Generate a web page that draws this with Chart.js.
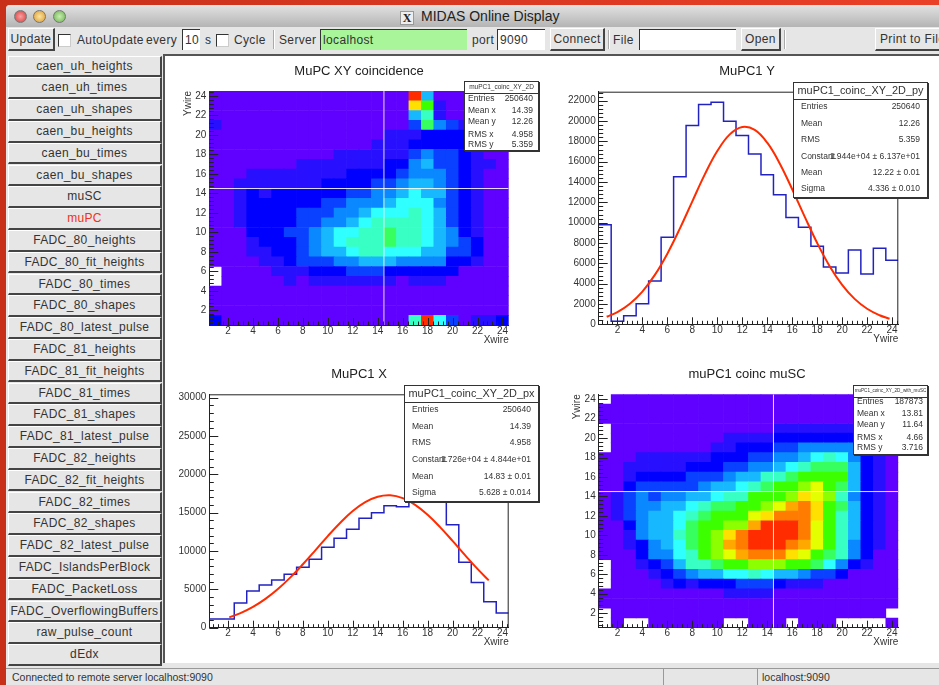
<!DOCTYPE HTML>
<html>
<head>
<meta charset="utf-8">
<script src="https://cdn.jsdelivr.net/npm/chart.js"></script>
<style>
    html, body { margin: 0; padding: 0; width: 939px; height: 685px; overflow: hidden; background: #d23219; font-family: "Liberation Sans", sans-serif; color: #333; }
    body { background: linear-gradient(to right, #c8301a, #ea4028); filter: blur(0.45px); }
    .abs { position: absolute; white-space: nowrap; }
    #win { position: absolute; left: 6px; top: 5px; width: 933px; height: 680px; background: #e6e6e6; border-radius: 4px 0 0 0; }
    #titlebar { position: absolute; left: 6px; top: 5px; width: 933px; height: 22px; background: linear-gradient(#e2e2e2, #b4b4b4); border-radius: 4px 0 0 0; }
    .light { position: absolute; top: 10px; width: 11px; height: 11px; border-radius: 50%; border: 1px solid #777; }
    .tb { font-size: 12px; line-height: 14px; top: 33px; letter-spacing: .35px; }
    .btn { position: absolute; background: #e6e6e6; border-top: 1px solid #fff; border-left: 1px solid #fff; border-right: 2px solid #444; border-bottom: 2px solid #444; box-sizing: border-box; text-align: center; font-size: 12px; letter-spacing: .35px; color: #333; white-space: nowrap; }
    .input { position: absolute; top: 29px; height: 21px; box-sizing: border-box; background: #fff; border-top: 1px solid #333; border-left: 1px solid #333; font-size: 12px; line-height: 20px; padding-left: 2px; letter-spacing: .35px; }
    .check { position: absolute; top: 34px; width: 11px; height: 11px; background: #fff; border-top: 1px solid #333; border-left: 1px solid #333; border-right: 1px solid #ccc; border-bottom: 1px solid #ccc; }
    .sep { position: absolute; top: 30px; width: 1px; height: 19px; background: #aaa; border-right: 1px solid #fff; }
    #main { position: absolute; left: 163px; top: 54px; width: 776px; height: 609px; background: #fff; border-left: 2px solid #555; border-top: 2px solid #555; box-sizing: border-box; }
    canvas { position: absolute; }
    .stat { position: absolute; box-sizing: border-box; background: #fff; border: 1px solid #333; box-shadow: 1px 1px 0 #333; font-size: 8.5px; color: #333; }
    .stat .head { position: absolute; left: 0; right: 0; top: 0; text-align: center; border-bottom: 1px solid #333; color: #333; white-space: nowrap; overflow: hidden; }
    .stat span { position: absolute; white-space: nowrap; line-height: 10px; }
    .status { position: absolute; top: 670px; font-size: 10.5px; line-height: 14px; height: 15px; color: #333; }
</style>
</head>
<body>

<div id="win"></div>
<div id="titlebar"></div>
<div class="light" style="left:14px; background:radial-gradient(#f9a0a0,#d83a3a)"></div>
<div class="light" style="left:33px; background:radial-gradient(#fbe3a0,#dc9a30)"></div>
<div class="light" style="left:53px; background:radial-gradient(#c8eeb0,#6cb050)"></div>
<div class="abs" style="left:400px; top:11px; width:12px; height:12px; background:#eee; border:1px solid #999; font:bold 12px/12px 'Liberation Serif'; text-align:center; color:#222">X</div>
<div class="abs" style="left:421px; top:8px; font-size:14px; line-height:17px; color:#222">MIDAS Online Display</div>

<div class="btn" style="left:8px; top:28px; width:47px; height:23px; line-height:20px">Update</div>
<div class="check" style="left:58px"></div>
<div class="abs tb" style="left:77px">AutoUpdate</div>
<div class="abs tb" style="left:146px">every</div>
<div class="input" style="left:182px; width:18px">10</div>
<div class="abs tb" style="left:205px">s</div>
<div class="check" style="left:216px"></div>
<div class="abs tb" style="left:234px">Cycle</div>
<div class="sep" style="left:273px"></div>
<div class="abs tb" style="left:279px">Server</div>
<div class="input" style="left:320px; width:147px; background:#a8f59a">localhost</div>
<div class="abs tb" style="left:472px">port</div>
<div class="input" style="left:497px; width:48px">9090</div>
<div class="btn" style="left:550px; top:28px; width:55px; height:23px; line-height:20px">Connect</div>
<div class="sep" style="left:608px"></div>
<div class="abs tb" style="left:613px">File</div>
<div class="input" style="left:639px; width:97px"></div>
<div class="btn" style="left:741px; top:28px; width:40px; height:23px; line-height:20px">Open</div>
<div class="sep" style="left:784px"></div>
<div class="btn" style="left:875px; top:28px; width:80px; height:23px; line-height:20px; text-align:left; padding-left:4px">Print to File</div>

<div id="side"></div>
<div id="main"></div>

<canvas id="xyChart" width="388" height="300" style="left:165px; top:56px"></canvas>
<canvas id="pyChart" width="384" height="300" style="left:555px; top:56px"></canvas>
<canvas id="pxChart" width="388" height="300" style="left:165px; top:358px"></canvas>
<canvas id="scChart" width="384" height="300" style="left:555px; top:358px"></canvas>
<div id="stats"></div>

<div class="abs" style="left:6px; top:668px; width:933px; height:1px; background:#999"></div>
<div class="status" style="left:12px">Connected to remote server localhost:9090</div>
<div class="abs" style="left:663px; top:668px; width:1px; height:17px; background:#999"></div>
<div class="abs" style="left:757px; top:668px; width:1px; height:17px; background:#999"></div>
<div class="status" style="left:762px">localhost:9090</div>

<script type="text/javascript">
    const sideButtons = ['caen_uh_heights','caen_uh_times','caen_uh_shapes','caen_bu_heights','caen_bu_times','caen_bu_shapes','muSC','muPC',
        'FADC_80_heights','FADC_80_fit_heights','FADC_80_times','FADC_80_shapes','FADC_80_latest_pulse',
        'FADC_81_heights','FADC_81_fit_heights','FADC_81_times','FADC_81_shapes','FADC_81_latest_pulse',
        'FADC_82_heights','FADC_82_fit_heights','FADC_82_times','FADC_82_shapes','FADC_82_latest_pulse',
        'FADC_IslandsPerBlock','FADC_PacketLoss','FADC_OverflowingBuffers','raw_pulse_count','dEdx'];

    // colour level of each bin, -1 = empty. first row is Ywire 24, last is Ywire 1
    const palette = ['#6000ff','#2810ff','#0000ff','#0a40ff','#0a88ff','#18b8ff','#30ffff','#38ffc4','#38ff60','#3cff00','#8cff00','#e4ff00','#ffe000','#ffa800','#ff7c00','#ff2c00'];

    const xyRows = [
        [0,0,0,0,0,0,0,0,0,0,0,0,0,0,0,0,15,5,0,0,0,0,0,0],
        [0,0,0,0,0,0,0,0,0,0,0,0,0,0,0,0,12,9,1,0,0,0,0,0],
        [0,0,0,0,0,0,0,0,0,0,0,0,0,0,0,0,5,7,1,0,0,0,0,0],
        [1,0,0,0,0,0,0,0,0,0,0,0,0,0,0,0,3,8,4,3,1,0,0,0],
        [0,0,0,0,0,0,0,0,0,0,0,0,0,0,1,1,1,2,2,2,2,1,0,0],
        [0,0,0,0,0,0,0,0,0,0,0,0,0,1,1,1,2,2,2,2,2,1,0,0],
        [0,0,0,0,0,0,0,0,0,0,1,1,1,1,1,1,3,4,3,3,2,1,0,0],
        [0,0,0,0,0,0,0,1,1,1,1,1,1,1,2,2,4,5,3,3,2,1,1,0],
        [0,0,0,1,1,1,1,1,1,1,1,2,2,2,2,3,4,4,4,3,2,1,0,0],
        [0,0,1,1,1,1,1,1,1,2,2,2,2,3,3,4,5,5,4,3,2,1,0,0],
        [0,0,1,2,1,2,2,2,2,2,2,3,3,4,4,5,6,5,5,3,2,1,0,0],
        [0,0,1,2,2,2,2,2,2,3,3,4,4,4,5,6,6,6,4,3,2,1,0,0],
        [0,0,1,2,2,2,2,3,3,3,4,4,5,6,6,6,7,6,5,3,2,1,0,0],
        [0,0,1,2,2,2,2,3,3,4,4,5,6,7,7,7,7,6,5,3,2,1,0,0],
        [0,0,0,2,2,2,3,3,4,5,6,6,7,7,8,7,7,6,5,4,2,1,0,0],
        [0,0,0,1,2,2,2,3,4,5,6,7,7,7,8,7,7,6,5,4,3,2,0,0],
        [0,0,0,1,1,2,2,3,4,5,5,6,7,7,6,6,6,5,5,3,3,2,0,0],
        [0,0,0,0,1,1,2,3,3,3,4,4,5,5,5,4,4,4,4,2,2,1,0,0],
        [-1,0,0,0,0,1,1,1,2,2,2,3,3,3,2,2,2,2,2,2,0,0,0,0],
        [-1,0,0,0,0,0,1,0,1,1,1,1,1,1,1,0,1,1,1,0,0,0,0,0],
        [0,0,0,0,0,0,0,0,0,0,0,0,0,0,0,0,0,0,0,0,0,0,0,0],
        [0,0,0,0,0,0,0,0,0,0,0,0,0,0,0,0,0,0,0,0,0,0,0,0],
        [0,0,0,0,0,0,0,0,0,0,0,0,0,0,0,0,0,0,0,0,0,0,0,0],
        [2,0,0,0,0,0,0,0,0,0,0,0,0,0,0,0,7,15,6,3,0,1,1,2]
    ];

    const scRows = [
        [-1,0,0,0,0,0,0,0,0,0,0,0,0,0,0,0,0,0,0,0,0,0,0,0],
        [0,0,0,0,0,0,0,0,0,0,0,0,0,0,0,0,0,0,0,0,0,0,0,0],
        [0,0,0,0,0,0,0,0,0,0,0,0,0,0,0,0,0,0,0,0,0,0,0,0],
        [-1,0,0,0,0,0,0,0,0,0,0,0,0,0,1,1,1,1,1,1,1,1,0,0],
        [-1,0,0,0,0,0,0,0,0,0,1,1,1,1,2,2,2,2,2,2,2,1,0,0],
        [-1,0,0,0,0,0,0,0,0,1,1,2,2,2,3,3,4,4,4,4,4,2,1,0],
        [0,0,0,1,1,1,1,1,1,2,2,2,3,3,4,4,5,6,7,6,4,2,1,0],
        [0,0,1,1,1,1,1,2,2,2,3,3,4,4,5,6,7,8,8,8,5,2,1,0],
        [0,0,1,2,2,2,2,3,3,3,4,5,5,7,7,8,9,9,9,9,5,2,1,0],
        [0,0,2,3,3,3,3,3,4,5,5,6,7,8,9,9,10,11,9,8,5,2,1,0],
        [0,1,3,4,3,4,4,5,5,6,7,7,9,9,9,10,12,11,10,7,4,2,1,0],
        [0,1,3,4,4,5,5,6,7,8,8,9,9,10,11,13,14,12,9,8,5,2,1,0],
        [0,1,3,4,5,5,6,7,8,9,9,9,11,12,14,14,14,12,9,7,5,2,1,0],
        [0,0,2,4,5,5,6,8,9,9,10,10,13,15,15,15,14,11,9,7,5,2,1,0],
        [0,0,1,4,5,5,7,8,9,10,12,14,15,15,15,15,14,11,9,7,5,2,1,0],
        [0,0,1,2,4,5,6,8,9,10,13,14,15,15,15,14,13,11,9,7,4,2,1,0],
        [0,0,0,2,4,4,6,7,9,10,11,13,14,14,14,12,11,9,8,7,4,2,0,0],
        [-1,0,0,1,2,3,5,7,7,8,9,9,10,10,10,9,9,8,6,4,2,1,0,0],
        [-1,0,0,0,1,2,3,4,5,5,6,6,7,6,5,5,4,3,3,2,0,0,0,0],
        [-1,0,0,0,0,1,2,1,2,2,2,3,3,3,2,1,1,1,0,0,0,0,0,0],
        [0,0,0,0,0,0,0,0,0,0,1,1,1,1,0,0,0,0,0,0,0,0,0,0],
        [0,0,0,0,0,0,0,0,0,0,0,0,0,0,0,0,0,0,0,0,0,0,0,0],
        [-1,0,0,0,0,0,0,0,0,0,0,0,0,0,0,0,0,0,0,0,0,0,0,-1],
        [-1,0,-1,-1,0,0,0,0,0,0,-1,-1,0,0,0,-1,0,0,0,-1,-1,-1,-1,0]
    ];

    const pyCounts = [9800,300,850,2030,4260,8560,14520,19570,21640,21840,19970,18590,16750,14720,12750,10520,9540,7670,5640,5050,7310,4950,7480,6300];
    const pxCounts = [1130,1130,3220,4780,5570,6220,6960,7870,8910,10480,11650,12830,14260,15000,15910,15780,22800,29000,24000,13430,8520,5910,3390,1910];

    const pyFitX = [1.14,2,3,4,5,6,7,8,9,10,11,12,13,14,15,16,17,18,19,20,21,22,23,23.8];
    const pyFitY = [740,1210,2030,3220,4860,6950,9420,12100,14750,17050,18690,19420,19130,17870,15830,13290,10600,8000,5720,3880,2500,1530,890,550];
    const pxFitX = [2.1,3,4,5,6,7,8,9,10,11,12,13,14,15,16,17,18,19,20,21,22,22.9];
    const pxFitY = [1340,1900,2710,3760,5040,6560,8270,10090,11950,13690,15210,16370,17070,17260,16890,16020,14730,13120,11320,9460,7670,6170];

    const wireTicks = [2,4,6,8,10,12,14,16,18,20,22,24];
    const pyTicks = [0,2000,4000,6000,8000,10000,12000,14000,16000,18000,20000,22000];
    const pxTicks = [0,5000,10000,15000,20000,25000,30000];

    const statBoxes = [
        { box: [464, 81, 75, 70], head: 'muPC1_coinc_XY_2D', headSize: 6.5, headH: 10.5, x: [3, 70],
          rows: [['Entries','250640',98],['Mean x','14.39',110],['Mean y','12.26',121],['RMS x','4.958',134],['RMS y','5.359',144]] },
        { box: [793, 82, 135, 116], head: 'muPC1_coinc_XY_2D_py', headSize: 10.9, headH: 15.5, x: [7, 128],
          rows: [['Entries','250640',106],['Mean','12.26',123],['RMS','5.359',139],['Constant','1.944e+04 ± 6.137e+01',156],['Mean','12.22 ± 0.01',172],['Sigma','4.336 ± 0.010',188]] },
        { box: [404, 385, 135, 117], head: 'muPC1_coinc_XY_2D_px', headSize: 10.9, headH: 15.5, x: [7, 128],
          rows: [['Entries','250640',409],['Mean','14.39',426],['RMS','4.958',442],['Constant','1.726e+04 ± 4.844e+01',459],['Mean','14.83 ± 0.01',476],['Sigma','5.628 ± 0.014',492]] },
        { box: [853, 385, 75, 70], head: 'muPC1_coinc_XY_2D_with_muSC', headSize: 4.6, headH: 10.5, x: [3, 71],
          rows: [['Entries','187873',401],['Mean x','13.81',413],['Mean y','11.64',424],['RMS x','4.66',437],['RMS y','3.716',447]] }
    ];

    // window chrome
    const side = document.getElementById('side');
    sideButtons.forEach((name, i) => {
        const b = document.createElement('div');
        b.className = 'btn';
        b.textContent = name;
        b.style.cssText = `left:8px; top:${55.5 + i * 21.8}px; width:154px; height:21.8px; line-height:19px;` + (name == 'muPC' ? 'color:#f03020;' : '');
        side.appendChild(b);
    });

    const stats = document.getElementById('stats');
    statBoxes.forEach(s => {
        const d = document.createElement('div');
        d.className = 'stat';
        d.style.cssText = `left:${s.box[0]}px; top:${s.box[1]}px; width:${s.box[2]}px; height:${s.box[3]}px;`;
        d.innerHTML = `<div class="head" style="font-size:${s.headSize}px; height:${s.headH}px; line-height:${s.headH}px">${s.head}</div>`;
        s.rows.forEach(r => {
            const top = r[2] - s.box[1] - 6;
            d.innerHTML += `<span style="left:${s.x[0]}px; top:${top}px">${r[0]}</span>`;
            d.innerHTML += `<span style="right:${s.box[2] - s.x[1]}px; top:${top}px">${r[1]}</span>`;
        });
        stats.appendChild(d);
    });

    Chart.defaults.font.family = '"Liberation Sans", sans-serif';
    Chart.defaults.color = '#333';
    Chart.defaults.animation = false;

    // ROOT style inward ticks, and the title centred over the whole pad
    const rootTicks = {
        id: 'rootTicks',
        afterLayout(chart) {
            chart.titleBlock.left = 0;
            chart.titleBlock.right = chart.width;
            chart.titleBlock.width = chart.width;
        },
        afterDatasetsDraw(chart, args, opts) {
            const ctx = chart.ctx, a = chart.chartArea, x = chart.scales.x, y = chart.scales.y;
            ctx.save();
            ctx.strokeStyle = '#222';
            ctx.lineWidth = 1;
            ctx.beginPath();
            for (let v = 0.8; v < 24.5; v += 0.4) {
                const big = Math.abs(v / 2 - Math.round(v / 2)) < 0.01;
                const px = Math.round(x.getPixelForValue(v)) + 0.5;
                ctx.moveTo(px, a.bottom);
                ctx.lineTo(px, a.bottom - (big ? 7 : 3.5));
            }
            for (let v = opts.yStart; v < y.max; v += opts.yStep) {
                const big = Math.round((v - opts.yFirstMajor) / opts.yStep) % 5 == 0;
                const py = Math.round(y.getPixelForValue(v)) + 0.5;
                ctx.moveTo(a.left, py);
                ctx.lineTo(a.left + (big ? 9 : 4.5), py);
            }
            if (opts.frame) {
                ctx.moveTo(a.left, a.top + 0.5);
                ctx.lineTo(a.right - 0.5, a.top + 0.5);
                ctx.lineTo(a.right - 0.5, a.bottom);
            }
            ctx.stroke();
            ctx.restore();
        }
    };

    function axes(p) {
        const keepMajor = list => scale => { scale.ticks = list.map(v => ({ value: v })); };
        return {
            x: {
                type: 'linear', min: 0.5, max: 24.5, offset: false,
                grid: { display: false, offset: false, drawTicks: false },
                border: { display: true, color: '#222', width: 1 },
                afterBuildTicks: keepMajor(wireTicks),
                afterFit: s => { s.height = p.bottom; },
                ticks: { autoSkip: false, maxRotation: 0, padding: 0, font: { size: 10 }, callback: v => v },
                title: { display: true, text: p.xTitle, align: 'end', font: { size: 10 }, padding: { top: 0, bottom: p.bottom - 21 } }
            },
            y: {
                type: 'linear', min: p.yMin, max: p.yMax,
                grid: { display: false, drawTicks: false },
                border: { display: true, color: '#222', width: 1 },
                afterBuildTicks: keepMajor(p.yTicks),
                afterFit: s => { s.width = p.left; },
                ticks: { autoSkip: false, padding: 3, font: { size: 10 }, callback: v => v },
                title: { display: !!p.yTitle, text: p.yTitle, align: 'end', font: { size: 10 }, padding: { top: p.yTitleLeft, bottom: 0 } }
            }
        };
    }

    function baseOptions(p) {
        return {
            responsive: false,
            layout: { padding: { right: p.right } },
            events: [],
            plugins: {
                legend: { display: false },
                tooltip: { enabled: false },
                title: { display: true, text: p.title, color: '#222', font: { size: 13, weight: 'normal', lineHeight: 1.2 }, padding: { top: p.titleTop, bottom: p.top - p.titleTop - 15.6 } },
                rootTicks: { yStart: p.yStart, yStep: p.yStep, yFirstMajor: p.yFirstMajor, frame: p.frame }
            },
            scales: axes(p)
        };
    }

    function heatChart(id, rows, p) {
        const cells = [], colors = [];
        rows.forEach((row, r) => {
            row.forEach((level, c) => {
                if (level < 0) return;
                const wire = 24 - r;
                cells.push({ x: c + 1, y: [wire - 0.5, wire + 0.5] });
                colors.push(palette[level]);
            });
        });
        return new Chart(document.getElementById(id), {
            type: 'bar',
            plugins: [rootTicks],
            data: {
                datasets: [
                    { data: cells, backgroundColor: colors, barPercentage: 1, categoryPercentage: 1, order: 2 },
                    { type: 'line', data: [{ x: 14.5, y: 0.5 }, { x: 14.5, y: 24.5 }], borderColor: 'rgba(255,255,255,0.85)', borderWidth: 1, pointRadius: 0, order: 1 },
                    { type: 'line', data: [{ x: 0.5, y: 14.5 }, { x: 24.5, y: 14.5 }], borderColor: 'rgba(255,255,255,0.85)', borderWidth: 1, pointRadius: 0, order: 1 }
                ]
            },
            options: baseOptions(p)
        });
    }

    function histChart(id, counts, fitX, fitY, p) {
        const steps = [{ x: 0.5, y: counts[0] }];
        counts.forEach((c, i) => steps.push({ x: i + 1, y: c }));
        steps.push({ x: 24.5, y: counts[counts.length - 1] });
        return new Chart(document.getElementById(id), {
            type: 'line',
            plugins: [rootTicks],
            data: {
                datasets: [
                    { data: steps, stepped: 'middle', borderColor: '#2222c0', borderWidth: 1.5, pointRadius: 0, order: 2 },
                    { data: fitX.map((x, i) => ({ x: x, y: fitY[i] })), borderColor: '#ff2c00', borderWidth: 2, pointRadius: 0, tension: 0.4, order: 1 }
                ]
            },
            options: baseOptions(p)
        });
    }

    const wireAxisY = { yMin: 0.5, yMax: 24.5, yTicks: wireTicks, yStart: 0.8, yStep: 0.4, yFirstMajor: 2 };

    heatChart('xyChart', xyRows, Object.assign({ title: 'MuPC XY coincidence', left: 44.3, right: 44.3, top: 35, bottom: 31, titleTop: 7.2, xTitle: 'Xwire', yTitle: 'Ywire', yTitleLeft: 17, frame: false }, wireAxisY));
    histChart('pyChart', pyCounts, pyFitX, pyFitY, { title: 'MuPC1 Y', left: 43.7, right: 40.7, top: 35.7, bottom: 31.7, titleTop: 7.2, xTitle: 'Ywire', yMin: 0, yMax: 22890, yTicks: pyTicks, yStart: 0, yStep: 400, yFirstMajor: 0, frame: true });
    histChart('pxChart', pxCounts, pxFitX, pxFitY, { title: 'MuPC1 X', left: 44.3, right: 44.3, top: 36.3, bottom: 30.3, titleTop: 8.7, xTitle: 'Xwire', yMin: 0, yMax: 30435, yTicks: pxTicks, yStart: 0, yStep: 1000, yFirstMajor: 0, frame: true });
    heatChart('scChart', scRows, Object.assign({ title: 'muPC1 coinc muSC', left: 43.7, right: 40.7, top: 36.3, bottom: 30.3, titleTop: 8.7, xTitle: 'Xwire', yTitle: 'Ywire', yTitleLeft: 16, frame: false }, wireAxisY));
</script>
</body>
</html>
